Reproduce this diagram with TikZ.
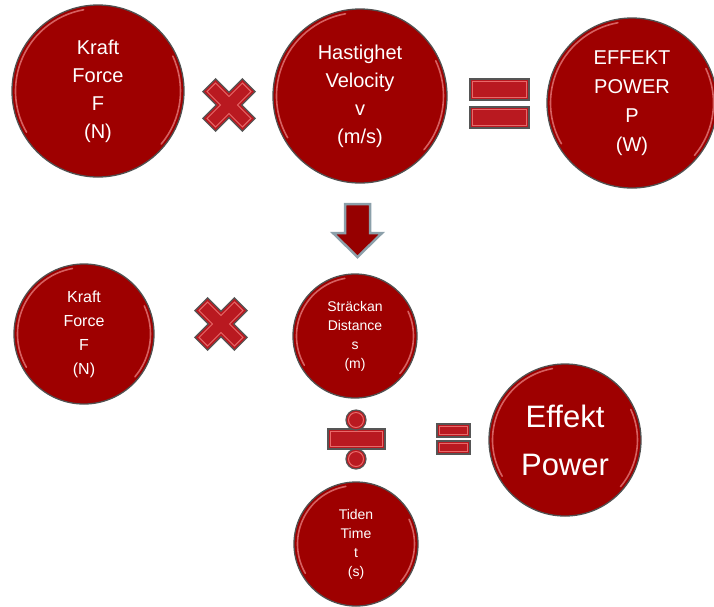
\documentclass[tikz,border=0pt]{standalone}
\usepackage{fontspec}
\setmainfont{Liberation Sans}
\usetikzlibrary{calc}

\begin{document}
\begin{tikzpicture}[x=1pt,y=-1pt,
  ball/.style={circle,draw=rimgray,line width=1.3pt,fill=ballred,text=white,
    align=center,inner sep=0pt,minimum size=#1,
    path picture={
      \draw[ballshine,line width=1.6pt,line cap=round,draw opacity=0.8]
        let \p1=($(path picture bounding box.north east)-(path picture bounding box.center)$),
            \n1={\x1-3.5pt} in
        (path picture bounding box.center) ++(100:\n1) arc[start angle=100,end angle=210,radius=\n1]
        (path picture bounding box.center) ++(-40:\n1) arc[start angle=-40,end angle=25,radius=\n1];
    }},
  opshape/.style={draw=opgray,fill=opred,line width=1.2pt,line join=miter},
  opbar/.style={opshape,path picture={
      \draw[shinered,line width=1pt]
        ([shift={(2.5pt,2.5pt)}]path picture bounding box.south west) rectangle
        ([shift={(-2.5pt,-2.5pt)}]path picture bounding box.north east);}},
  timessign/.pic={
    \draw[opshape,rotate=45] (28,9)--(9,9)--(9,28)--(-9,28)--(-9,9)--(-28,9)--(-28,-9)
      --(-9,-9)--(-9,-28)--(9,-28)--(9,-9)--(28,-9)--cycle;
    \draw[shinered,line width=1pt,rotate=45] (25,6)--(6,6)--(6,25)--(-6,25)--(-6,6)--(-25,6)
      --(-25,-6)--(-6,-6)--(-6,-25)--(6,-25)--(6,-6)--(25,-6)--cycle;
  }]
\definecolor{ballred}{RGB}{158,0,0}
\definecolor{rimgray}{RGB}{80,80,80}
\definecolor{ballshine}{RGB}{228,120,120}
\definecolor{opred}{RGB}{185,25,32}
\definecolor{shinered}{RGB}{232,105,105}
\definecolor{opgray}{RGB}{85,85,85}
\definecolor{arrowred}{RGB}{150,0,0}
\definecolor{arrowrim}{RGB}{140,160,170}

\useasboundingbox (0,0) rectangle (714,606);

% First row: F times v equals P.
\node[ball=172,font=\fontsize{20}{28}\selectfont] (kraftA) at (98,91)
  {Kraft\\Force\\F\\(N)};
\node[ball=174,font=\fontsize{20}{28}\selectfont] (hastighet) at (360,96)
  {Hastighet\\Velocity\\v\\(m/s)};
\node[ball=170,font=\fontsize{20}{29}\selectfont] (effektA) at (632,103)
  {EFFEKT\\POWER\\P\\(W)};
\pic at (229,105) {timessign};
\draw[opbar] (470,79) rectangle (529,100);
\draw[opbar] (470,107) rectangle (529,128);

% Velocity is distance over time.
\draw[draw=arrowrim,fill=arrowred,line width=2.5pt,line join=miter]
  (345,204)--(370,204)--(370,233)--(382,233)--(357.5,257)--(333,233)--(345,233)--cycle;

% Second form: F times s divided by t.
\node[ball=140,font=\fontsize{16}{24}\selectfont] (kraftB) at (84,334)
  {Kraft\\Force\\F\\(N)};
\node[ball=124,font=\fontsize{14}{19}\selectfont] (strackan) at (355,336)
  {Sträckan\\Distance\\s\\(m)};
\node[ball=124,font=\fontsize{14}{19}\selectfont] (tiden) at (356,544)
  {Tiden\\Time\\t\\(s)};
\node[ball=152,font=\fontsize{31}{48}\selectfont] (effektB) at (565,440)
  {Effekt\\Power};
\pic at (221,324) {timessign};

% Division sign.
\draw[opbar] (328,429) rectangle (385,449);
\foreach \y in {420,459} {
  \draw[opshape] (356,\y) circle (10);
  \draw[shinered,line width=1pt] (356,\y) circle (7.5);
}
\draw[opbar] (437,424) rectangle (470,437);
\draw[opbar] (437,441) rectangle (470,454);
\end{tikzpicture}
\end{document}
